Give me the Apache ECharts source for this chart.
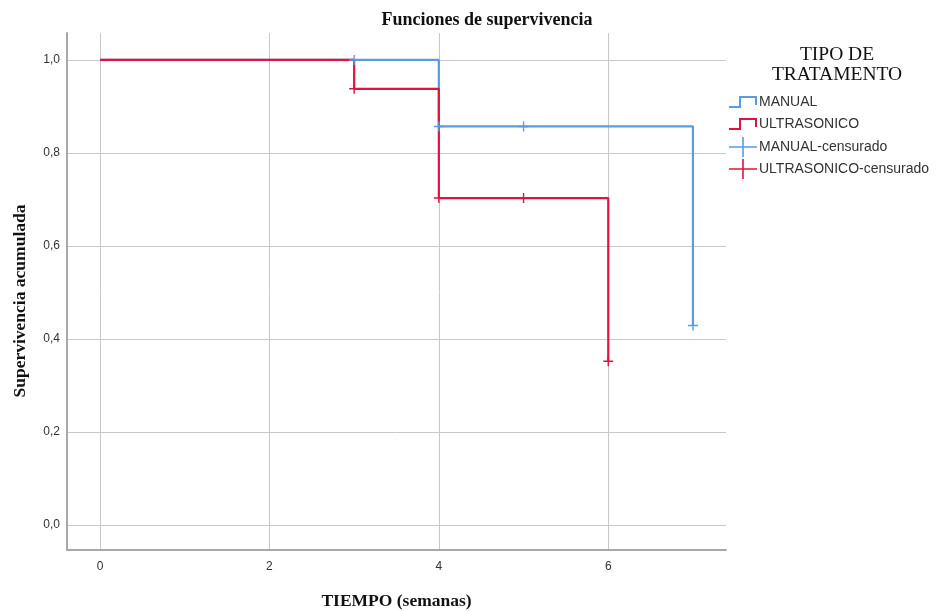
<!DOCTYPE html>
<html>
<head>
<meta charset="utf-8">
<script src="https://cdn.jsdelivr.net/npm/echarts@6/dist/echarts.min.js"></script>
<style>html,body{margin:0;padding:0;background:#fff}#c{width:939px;height:611px}</style>
</head>
<body>
<div id="c"></div>
<script>
// Survival step data [time, cumulative survival]
const manualSteps = [[0, 1.0], [4, 0.857], [7, 0.429]];
const ultraSteps = [[0, 1.0], [3, 0.938], [4, 0.703], [6, 0.352]];
// Censored observations
const manualCensored = [[3, 1.0], [4, 0.857], [5, 0.857], [7, 0.429]];
const ultraCensored = [[3, 0.938], [4, 0.703], [5, 0.703], [6, 0.352]];
// Tick values
const xTicks = [0, 2, 4, 6];
const yTicks = [0, 0.2, 0.4, 0.6, 0.8, 1.0];

const BLUE = '#5b9be2';
const RED = '#e0143f';
const serif = '"Liberation Serif", "DejaVu Serif", serif';
const sans = '"Liberation Sans", Arial, sans-serif';

const stepIcon = 'path://M0,10 L10,10 L10,0 L28,0 L28,9 L26,9 L26,2 L12,2 L12,12 L0,12 Z';
const plusIcon = 'path://M0,9.2 L28,9.2 L28,10.8 L0,10.8 Z M13.2,0 L14.8,0 L14.8,20 L13.2,20 Z';
const plusMark = 'path://M0,4.3 L10,4.3 L10,5.7 L0,5.7 Z M4.3,0 L5.7,0 L5.7,10 L4.3,10 Z';

const chart = echarts.init(document.getElementById('c'), null, {renderer: 'canvas'});
chart.setOption({
  animation: false,
  backgroundColor: '#ffffff',
  title: [
    {text: 'Funciones de supervivencia', left: 482, top: 6, textAlign: 'center',
     textStyle: {fontFamily: serif, fontWeight: 'bold', fontSize: 18, color: '#111'}},
    {text: 'TIPO DE\nTRATAMENTO', left: 832, top: 40, textAlign: 'center',
     textStyle: {fontFamily: serif, fontWeight: 'normal', fontSize: 19.5, lineHeight: 20, color: '#111'}}
  ],
  graphic: [{
    type: 'text', x: 20, y: 301, rotation: Math.PI / 2,
    style: {text: 'Supervivencia acumulada', font: 'bold 17.5px ' + serif, fill: '#111',
            align: 'center', verticalAlign: 'middle'}
  }],
  legend: [
    {left: 724, top: 90, orient: 'vertical', itemWidth: 28, itemHeight: 12, itemGap: 8,
     textStyle: {fontFamily: sans, fontSize: 14, color: '#333', padding: [0, 0, 0, -3]},
     selectedMode: false,
     data: [{name: 'MANUAL', icon: stepIcon}, {name: 'ULTRASONICO', icon: stepIcon}]},
    {left: 724, top: 132, orient: 'vertical', itemWidth: 28, itemHeight: 20, itemGap: 2,
     textStyle: {fontFamily: sans, fontSize: 14, color: '#333', padding: [0, 0, 0, -3]},
     itemStyle: {opacity: 1},
     selectedMode: false,
     data: [{name: 'MANUAL-censurado', icon: plusIcon}, {name: 'ULTRASONICO-censurado', icon: plusIcon}]}
  ],
  grid: {left: 67, right: 213, top: 33, bottom: 61, containLabel: false, outerBoundsMode: 'none'},
  xAxis: {
    type: 'value', min: -0.39, max: 7.39,
    name: 'TIEMPO (semanas)', nameLocation: 'middle', nameGap: 42,
    nameTextStyle: {fontFamily: serif, fontWeight: 'bold', fontSize: 17.5, color: '#111'},
    axisLine: {show: true, onZero: false, lineStyle: {color: '#a8a8a8', width: 2}},
    axisTick: {show: false, customValues: xTicks},
    axisLabel: {customValues: xTicks, fontFamily: sans, fontSize: 12, color: '#333', margin: 11},
    splitLine: {show: true, lineStyle: {color: '#c8c8c8', width: 1}}
  },
  yAxis: {
    type: 'value', min: -0.054, max: 1.058,
    axisLine: {show: true, onZero: false, lineStyle: {color: '#a8a8a8', width: 2}},
    axisTick: {show: false, customValues: yTicks},
    axisLabel: {customValues: yTicks, fontFamily: sans, fontSize: 12, color: '#333', margin: 7,
      formatter: v => v.toFixed(1).replace('.', ',')},
    splitLine: {show: true, lineStyle: {color: '#c8c8c8', width: 1}}
  },
  series: [
    {name: 'MANUAL', type: 'line', step: 'end', data: manualSteps, symbol: 'none',
     color: BLUE, itemStyle: {color: BLUE}, lineStyle: {color: BLUE, width: 2.2}, z: 3},
    {name: 'ULTRASONICO', type: 'line', step: 'end', data: ultraSteps, symbol: 'none',
     color: RED, itemStyle: {color: RED}, lineStyle: {color: RED, width: 2.2}, z: 4},
    {name: 'MANUAL-censurado', type: 'scatter', data: manualCensored, symbol: plusMark,
     symbolSize: 10, symbolKeepAspect: true, itemStyle: {color: BLUE, opacity: 1}, color: BLUE, z: 5},
    {name: 'ULTRASONICO-censurado', type: 'scatter', data: ultraCensored, symbol: plusMark,
     symbolSize: 10, symbolKeepAspect: true, itemStyle: {color: RED, opacity: 1}, color: RED, z: 6}
  ]
});
</script>
</body>
</html>
